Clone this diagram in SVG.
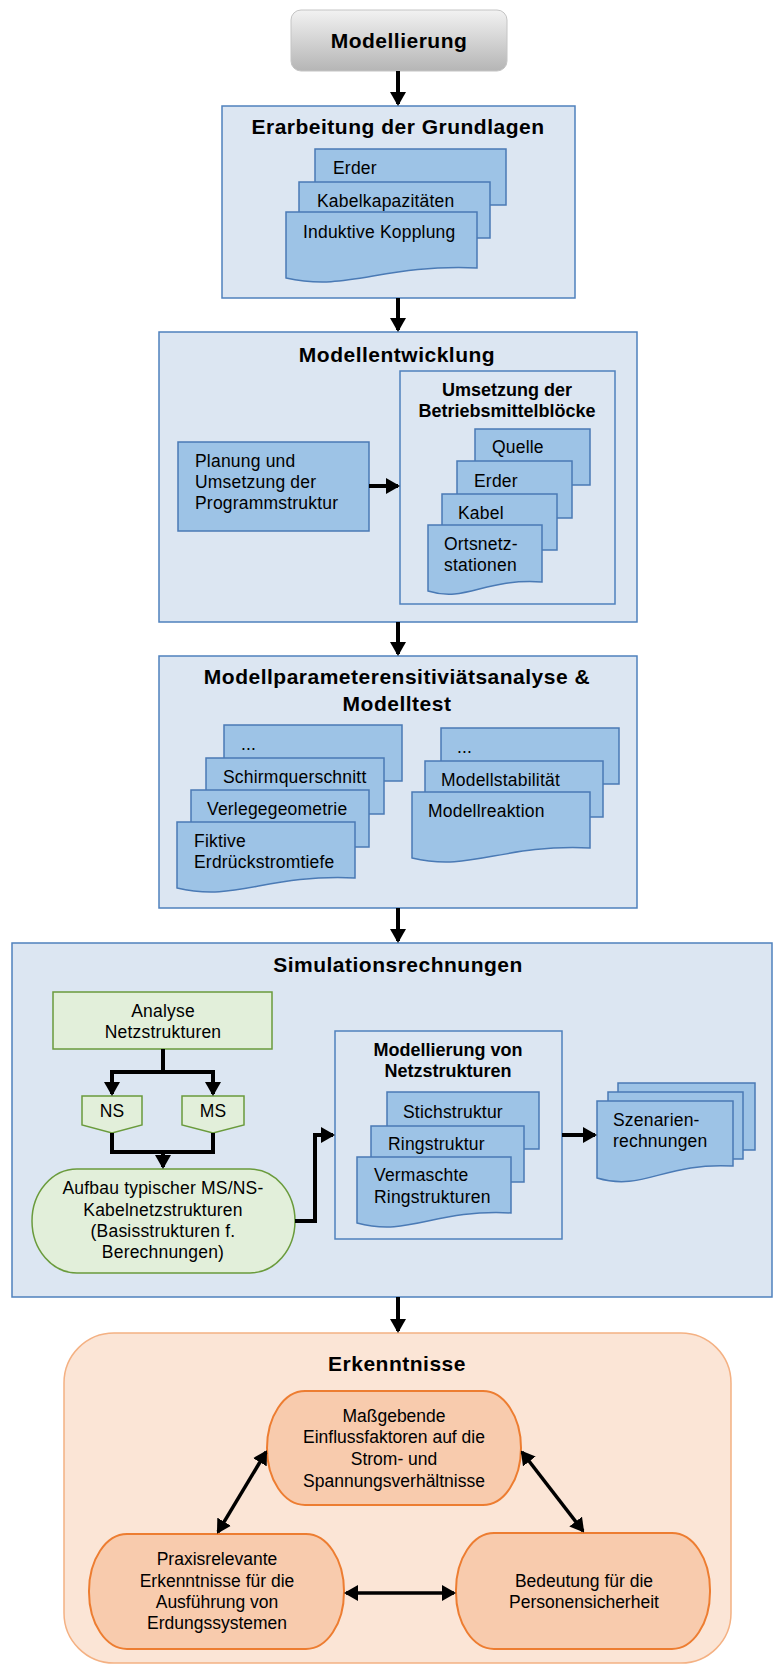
<svg xmlns="http://www.w3.org/2000/svg" width="773" height="1664" viewBox="0 0 773 1664">
<defs>
<linearGradient id="gray" x1="0" y1="0" x2="0" y2="1">
<stop offset="0" stop-color="#f2f2f2"/>
<stop offset="1" stop-color="#b5b5b5"/>
</linearGradient>
<marker id="ah" viewBox="0 0 14 16" markerWidth="14" markerHeight="16" refX="12" refY="8" orient="auto-start-reverse" markerUnits="userSpaceOnUse">
<path d="M0,0 L14,8 L0,16 z" fill="#000"/>
</marker>
</defs>
<style>
text{font-family:"Liberation Sans",Arial,sans-serif;fill:#000}
.t{font-size:21px;font-weight:bold;letter-spacing:0.5px;text-anchor:middle}
.st{font-size:18px;font-weight:bold;text-anchor:middle}
.b{font-size:17.5px;letter-spacing:0.2px}
.bc{font-size:17.5px;letter-spacing:0.2px;text-anchor:middle}
.o{font-size:17.5px;text-anchor:middle}
.box{fill:#dce6f2;stroke:#4f81bd;stroke-width:1.5}
.doc{fill:#9dc3e6;stroke:#4a7ab5;stroke-width:1.5}
.gr{fill:#e2efda;stroke:#6a9b3c;stroke-width:1.5}
.outer{fill:#fbe5d6;stroke:#f4b183;stroke-width:1.5}
.on{fill:#f8cbad;stroke:#ed7d31;stroke-width:2}
.c{fill:none;stroke:#000;stroke-width:4}
.ca{fill:none;stroke:#000;stroke-width:4;marker-end:url(#ah)}
.cd{fill:none;stroke:#000;stroke-width:3.5;marker-start:url(#ah);marker-end:url(#ah)}
</style>

<g id="modellierung">
<rect x="291" y="10" width="216" height="61" rx="10" fill="url(#gray)" stroke="#c4c4c4" stroke-width="1"/>
<text class="t" x="399" y="48">Modellierung</text>
</g>

<g id="grundlagen">
<rect class="box" x="222" y="106" width="353" height="192"/>
<text class="t" x="398" y="134">Erarbeitung der Grundlagen</text>
<rect class="doc" x="315" y="149" width="191" height="56"/>
<text class="b" x="333" y="174">Erder</text>
<rect class="doc" x="299" y="182" width="191" height="56"/>
<text class="b" x="317" y="207">Kabelkapazitäten</text>
<path class="doc" d="M286,212 H477 V268 C380,264 350,292 286,278 Z"/>
<text class="b" x="303" y="238">Induktive Kopplung</text>
</g>

<g id="modellentwicklung">
<rect class="box" x="159" y="332" width="478" height="290"/>
<text class="t" x="397" y="362">Modellentwicklung</text>
</g>
<g id="planung">
<rect class="doc" x="178" y="442" width="191" height="89"/>
<text class="b" x="195" y="467">Planung und</text>
<text class="b" x="195" y="488">Umsetzung der</text>
<text class="b" x="195" y="509">Programmstruktur</text>
</g>
<g id="betriebsmittel">
<rect class="box" x="400" y="371" width="215" height="233"/>
<text class="st" x="507" y="396">Umsetzung der</text>
<text class="st" x="507" y="417">Betriebsmittelblöcke</text>
<rect class="doc" x="475" y="429" width="115" height="56"/>
<text class="b" x="492" y="453">Quelle</text>
<rect class="doc" x="457" y="461" width="115" height="57"/>
<text class="b" x="474" y="487">Erder</text>
<rect class="doc" x="442" y="494" width="115" height="56"/>
<text class="b" x="458" y="519">Kabel</text>
<path class="doc" d="M428,525 H542 V582 C484,578 466,603 428,591 Z"/>
<text class="b" x="444" y="550">Ortsnetz-</text>
<text class="b" x="444" y="571">stationen</text>
</g>

<g id="sensitivitaet">
<rect class="box" x="159" y="656" width="478" height="252"/>
<text class="t" x="397" y="684">Modellparameterensitiviätsanalyse &amp;</text>
<text class="t" x="397" y="711">Modelltest</text>
<rect class="doc" x="224" y="725" width="178" height="56"/>
<text class="b" x="241" y="750">...</text>
<rect class="doc" x="206" y="758" width="178" height="56"/>
<text class="b" x="223" y="783">Schirmquerschnitt</text>
<rect class="doc" x="191" y="790" width="178" height="57"/>
<text class="b" x="207" y="815">Verlegegeometrie</text>
<path class="doc" d="M177,822 H355 V878 C265,874 237,902 177,888 Z"/>
<text class="b" x="194" y="847">Fiktive</text>
<text class="b" x="194" y="868">Erdrückstromtiefe</text>
<rect class="doc" x="441" y="728" width="178" height="56"/>
<text class="b" x="457" y="753">...</text>
<rect class="doc" x="425" y="761" width="178" height="56"/>
<text class="b" x="441" y="786">Modellstabilität</text>
<path class="doc" d="M412,792 H590 V848 C500,844 472,872 412,858 Z"/>
<text class="b" x="428" y="817">Modellreaktion</text>
</g>

<g id="simulation">
<rect class="box" x="12" y="943" width="760" height="354"/>
<text class="t" x="398" y="972">Simulationsrechnungen</text>
</g>
<g id="analyse">
<rect class="gr" x="53" y="992" width="219" height="57"/>
<text class="bc" x="163" y="1017">Analyse</text>
<text class="bc" x="163" y="1038">Netzstrukturen</text>
</g>
<g id="ns">
<path class="gr" d="M82,1096 H142 V1125 L112,1133 L82,1125 Z"/>
<text class="bc" x="112" y="1117">NS</text>
</g>
<g id="ms">
<path class="gr" d="M182,1096 H244 V1125 L213,1133 L182,1125 Z"/>
<text class="bc" x="213" y="1117">MS</text>
</g>
<g id="aufbau">
<rect class="gr" x="32" y="1169" width="263" height="104" rx="45" ry="52"/>
<text class="bc" x="163" y="1194">Aufbau typischer MS/NS-</text>
<text class="bc" x="163" y="1216">Kabelnetzstrukturen</text>
<text class="bc" x="163" y="1237">(Basisstrukturen f.</text>
<text class="bc" x="163" y="1258">Berechnungen)</text>
</g>
<g id="netzstrukturen">
<rect class="box" x="335" y="1031" width="227" height="208"/>
<text class="st" x="448" y="1056">Modellierung von</text>
<text class="st" x="448" y="1077">Netzstrukturen</text>
<rect class="doc" x="387" y="1092" width="152" height="57"/>
<text class="b" x="403" y="1118">Stichstruktur</text>
<rect class="doc" x="371" y="1126" width="153" height="56"/>
<text class="b" x="388" y="1150">Ringstruktur</text>
<path class="doc" d="M357,1157 H511 V1213 C433,1209 410,1237 357,1223 Z"/>
<text class="b" x="374" y="1181">Vermaschte</text>
<text class="b" x="374" y="1203">Ringstrukturen</text>
</g>
<g id="szenarien">
<rect class="doc" x="618" y="1083" width="137" height="67"/>
<rect class="doc" x="608" y="1092" width="135" height="67"/>
<path class="doc" d="M597,1101 H733 V1166 C664,1162 643,1192 597,1178 Z"/>
<text class="b" x="613" y="1126">Szenarien-</text>
<text class="b" x="613" y="1147">rechnungen</text>
</g>

<g id="erkenntnisse">
<rect class="outer" x="64" y="1333" width="667" height="330" rx="50" ry="50"/>
<text class="t" x="397" y="1371">Erkenntnisse</text>
</g>
<g id="einfluss">
<rect class="on" x="267" y="1391" width="254" height="114" rx="38" ry="57"/>
<text class="o" x="394" y="1422">Maßgebende</text>
<text class="o" x="394" y="1443">Einflussfaktoren auf die</text>
<text class="o" x="394" y="1465">Strom- und</text>
<text class="o" x="394" y="1487">Spannungsverhältnisse</text>
</g>
<g id="praxis">
<rect class="on" x="89" y="1534" width="255" height="115" rx="38" ry="57"/>
<text class="o" x="217" y="1565">Praxisrelevante</text>
<text class="o" x="217" y="1587">Erkenntnisse für die</text>
<text class="o" x="217" y="1608">Ausführung von</text>
<text class="o" x="217" y="1629">Erdungssystemen</text>
</g>
<g id="sicherheit">
<rect class="on" x="456" y="1533" width="254" height="116" rx="38" ry="57"/>
<text class="o" x="584" y="1587">Bedeutung für die</text>
<text class="o" x="584" y="1608">Personensicherheit</text>
</g>

<g id="connectors">
<path class="ca" d="M398,71 V104"/>
<path class="ca" d="M398,298 V330"/>
<path class="ca" d="M369,486 H398"/>
<path class="ca" d="M398,622 V654"/>
<path class="ca" d="M398,908 V941"/>
<path class="ca" d="M163,1049 V1072 H112 V1094"/>
<path class="ca" d="M163,1072 H213 V1094"/>
<path class="c" d="M112,1133 V1152 H213 V1133"/>
<path class="ca" d="M163,1152 V1167"/>
<path class="ca" d="M295,1221 H315 V1135 H333"/>
<path class="ca" d="M562,1135 H595"/>
<path class="ca" d="M398,1297 V1331"/>
<path class="cd" d="M266,1452 L218,1532"/>
<path class="cd" d="M522,1452 L583,1531"/>
<path class="cd" d="M346,1593 H454"/>
</g>
</svg>
